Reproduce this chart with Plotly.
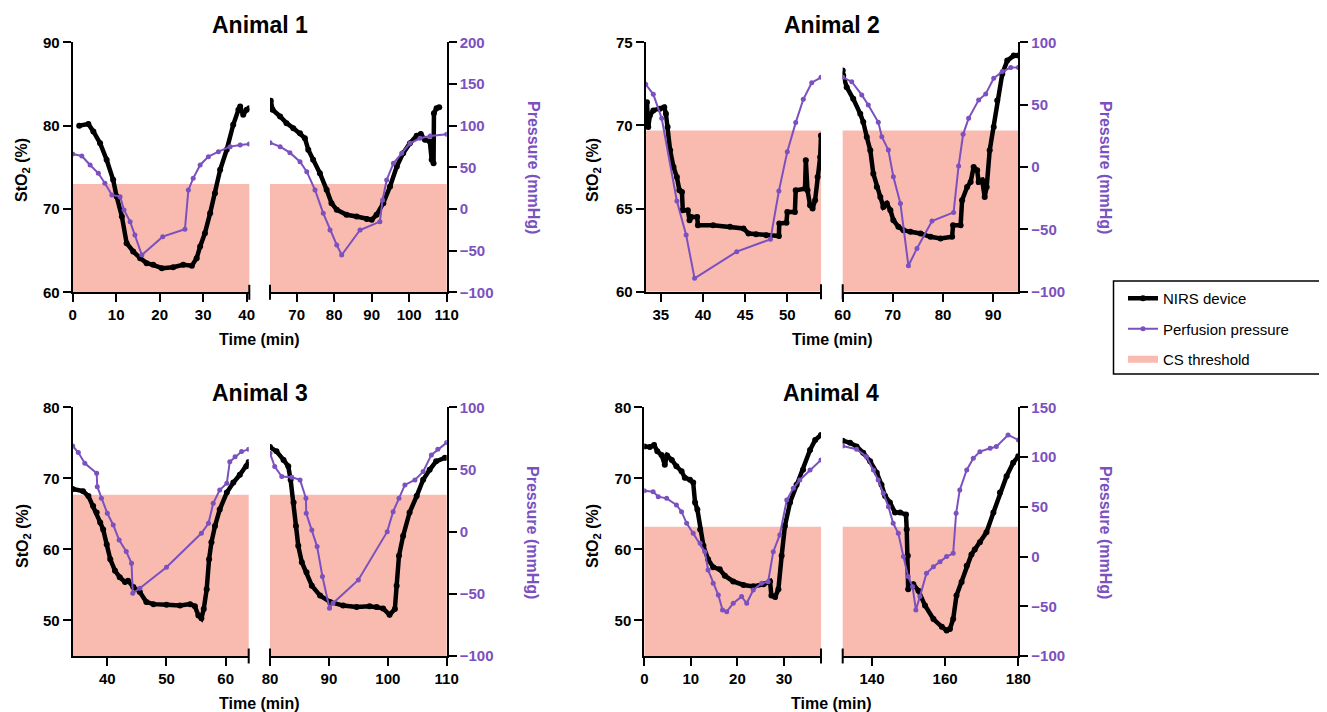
import plotly.graph_objects as go

# ---------------- DATA ----------------
titles = ["Animal 1", "Animal 2", "Animal 3", "Animal 4"]

# Animal 1
a1_s1_nirs_t = [1.5, 3.6, 4.75, 6.3, 7.8, 9.3, 10.1, 11.3, 12.4, 13.9, 15.5, 17.0, 18.5, 20.5, 23.1, 25.4, 27.4, 28.5, 29.3, 30.4, 31.6, 32.7, 33.9, 35.4, 36.9, 38.1, 38.5, 39.2, 40.0, 40.6]
a1_s1_nirs_v = [80.0, 80.2, 79.3, 77.9, 75.9, 73.5, 71.5, 69.1, 65.9, 64.9, 64.1, 63.5, 63.3, 62.9, 63.0, 63.3, 63.2, 64.1, 65.5, 67.1, 69.5, 71.9, 74.7, 77.1, 80.1, 81.9, 82.3, 81.3, 81.9, 82.1]
a1_s2_nirs_t = [63.1, 63.6, 65.6, 67.3, 69.1, 70.9, 72.2, 73.1, 74.4, 76.2, 78.0, 79.3, 80.7, 83.3, 86.0, 88.7, 90.0, 91.3, 93.1, 94.9, 96.7, 98.4, 100.2, 102.0, 103.1, 104.2, 105.5, 106.0, 106.5, 106.6, 107.3, 108.0]
a1_s2_nirs_v = [83.0, 81.9, 81.1, 80.3, 79.7, 79.1, 78.5, 77.1, 75.9, 74.3, 72.3, 70.7, 69.9, 69.3, 69.1, 68.8, 68.7, 69.3, 70.7, 72.7, 75.1, 76.7, 77.9, 78.8, 79.0, 78.3, 78.1, 75.9, 75.5, 81.5, 82.1, 82.2]
a1_s1_pp_t = [0, 2.1, 4.0, 5.9, 7.4, 9.0, 10.9, 11.8, 13.2, 14.3, 15.9, 20.7, 25.8, 26.6, 27.7, 29.3, 31.2, 33.5, 36.2, 38.5, 40.6]
a1_s1_pp_v = [66, 63.6, 52.8, 42.8, 30.8, 16.8, 14.8, -1.2, -15.2, -31.2, -55.2, -33.2, -24.4, 22.8, 36.8, 52.8, 62.8, 68.8, 74.8, 76.8, 78]
a1_s2_pp_t = [62.9, 65.6, 68.2, 70.9, 72.7, 74.9, 77.1, 78.9, 80.7, 82.0, 86.9, 92.2, 92.9, 94.0, 95.8, 98.0, 100.2, 102.9, 105.6, 110]
a1_s2_pp_v = [79.6, 74.8, 67.6, 56.8, 44.8, 22.8, -5.2, -25.2, -43.2, -55.2, -25.2, -15.2, 10.8, 34.8, 54.8, 66.8, 78.8, 84.8, 87.6, 89.6]

# Animal 2
a2_s1_nirs_t = [33.2, 33.35, 33.5, 33.7, 34.1, 34.9, 35.4, 35.6, 35.8, 36.1, 36.5, 36.9, 37.2, 37.5, 37.6, 38.2, 38.4, 38.6, 39.3, 39.4, 41.2, 43.2, 44.8, 45.4, 46.3, 47.5, 49.0, 49.05, 49.9, 50.0, 50.9, 51.0, 52.1, 52.2, 52.4, 52.7, 53.0, 53.3, 53.6, 53.9, 54.0]
a2_s1_nirs_v = [71.2, 71.4, 69.9, 70.6, 70.9, 71.0, 71.1, 70.7, 69.9, 68.5, 67.5, 66.9, 66.1, 66.0, 64.9, 64.9, 64.3, 64.5, 64.5, 64.0, 64.0, 63.9, 63.8, 63.5, 63.45, 63.4, 63.35, 64.1, 64.15, 64.8, 64.8, 66.1, 66.2, 67.9, 66.1, 65.2, 65.0, 65.5, 66.9, 68.1, 69.4]
a2_s2_nirs_t = [60.0, 60.1, 60.8, 62.1, 63.5, 64.1, 64.8, 65.5, 66.1, 66.8, 67.5, 68.1, 68.8, 69.5, 70.1, 71.1, 72.1, 73.5, 75.5, 77.5, 79.5, 81.8, 82.0, 83.5, 83.8, 84.8, 85.5, 86.1, 86.8, 87.1, 87.8, 88.3, 88.7, 89.3, 90.1, 90.8, 91.8, 92.8, 94.1, 95.0]
a2_s2_nirs_v = [73.3, 73.0, 72.3, 71.6, 70.7, 70.2, 69.3, 68.5, 67.1, 66.3, 65.7, 65.1, 65.3, 64.9, 64.3, 63.9, 63.7, 63.6, 63.5, 63.3, 63.2, 63.3, 64.0, 64.0, 65.5, 66.3, 66.6, 67.5, 67.3, 66.6, 66.7, 65.7, 66.3, 68.5, 69.9, 71.5, 73.1, 73.9, 74.2, 74.2]
a2_s1_pp_t = [33.2, 34.1, 35.1, 36.9, 38.0, 39.0, 44.0, 48.0, 49.0, 50.0, 51.0, 51.9, 52.9, 54.0]
a2_s1_pp_v = [66.3, 58.3, 39.0, -27.3, -54.6, -89.3, -67.9, -58.0, -19.3, 12.3, 35.6, 54.3, 67.6, 71.9]
a2_s2_pp_t = [60.0, 61.8, 63.8, 65.1, 67.1, 67.8, 69.1, 70.1, 71.5, 73.1, 74.8, 77.8, 82.1, 83.1, 84.0, 85.1, 87.1, 88.5, 90.1, 91.8, 93.5, 95.0]
a2_s2_pp_v = [71.9, 68.4, 57.8, 49.7, 35.8, 24.3, 13.6, -7.8, -29.2, -79.2, -65.3, -43.3, -36.4, 0.8, 26.2, 39.0, 53.7, 58.6, 71.1, 76.5, 79.7, 79.7]

# Animal 3
a3_s1_nirs_t = [34.15, 35.9, 36.8, 37.6, 38.2, 38.8, 39.3, 39.9, 40.5, 41.3, 42.1, 43.0, 43.5, 44.4, 45.5, 46.6, 47.8, 50.0, 52.3, 54.0, 54.8, 55.4, 55.9, 56.3, 56.8, 57.2, 57.6, 58.2, 59.0, 60.2, 61.3, 62.4, 63.5, 63.9]
a3_s1_nirs_v = [68.5, 68.2, 67.5, 66.1, 65.2, 63.8, 62.8, 60.7, 58.6, 57.0, 56.1, 55.4, 55.6, 54.7, 54.0, 52.6, 52.3, 52.2, 52.1, 52.3, 52.0, 50.7, 50.3, 51.6, 54.4, 58.6, 61.0, 63.3, 65.6, 68.0, 69.4, 70.5, 71.7, 72.3]
a3_s2_nirs_t = [80.0, 81.1, 82.3, 83.1, 83.5, 84.0, 84.4, 84.8, 85.4, 86.2, 87.1, 88.5, 90.2, 92.4, 94.7, 96.9, 98.1, 99.2, 100.3, 101.2, 101.5, 101.9, 102.6, 103.7, 104.9, 106.0, 107.1, 108.2, 109.7]
a3_s2_nirs_v = [74.4, 73.8, 72.6, 71.7, 69.8, 66.6, 63.3, 60.5, 58.2, 56.8, 54.9, 53.5, 52.6, 52.1, 51.9, 52.0, 51.9, 51.7, 50.8, 51.6, 54.9, 59.1, 61.9, 65.2, 67.5, 69.8, 71.2, 72.4, 72.9]
a3_s1_pp_t = [34.15, 35.1, 36.2, 38.2, 38.3, 39.0, 40.0, 41.0, 42.0, 43.2, 44.1, 44.3, 45.5, 50.0, 55.9, 57.1, 57.9, 59.0, 60.2, 60.7, 61.6, 62.7, 63.9]
a3_s1_pp_v = [68.9, 63.6, 55.0, 46.9, 36.2, 26.8, 14.8, 5.4, -6.7, -16.0, -25.4, -49.5, -45.5, -28.6, -1.3, 6.7, 22.8, 33.5, 38.9, 56.3, 60.3, 64.4, 66.2]
a3_s2_pp_t = [80.0, 80.8, 82.0, 83.7, 85.1, 86.1, 86.15, 87.1, 88.0, 88.9, 90.1, 90.7, 95.0, 99.9, 100.9, 101.9, 102.9, 104.6, 106.0, 107.4, 108.5, 110.0]
a3_s2_pp_v = [63.0, 52.3, 44.3, 43.7, 41.6, 26.8, 14.8, 1.4, -12.0, -36.1, -61.6, -57.6, -38.8, 0.0, 16.1, 26.8, 37.6, 41.6, 48.3, 61.7, 66.2, 71.6]

# Animal 4
a4_s1_nirs_t = [0, 1.2, 2.1, 2.8, 3.7, 4.4, 4.9, 5.9, 6.9, 8.0, 8.7, 9.8, 10.5, 10.9, 11.4, 12.0, 12.7, 13.7, 14.8, 16.2, 17.3, 19.1, 21.3, 23.4, 25.6, 27.0, 27.3, 28.1, 28.8, 29.5, 30.2, 31.3, 32.7, 34.1, 35.6, 36.7, 37.95]
a4_s1_nirs_v = [74.5, 74.4, 74.7, 73.8, 73.3, 71.9, 73.2, 72.6, 71.7, 71.0, 70.1, 69.8, 69.4, 66.6, 65.6, 62.8, 60.5, 58.6, 57.5, 57.2, 56.3, 55.5, 55.0, 54.8, 55.1, 55.5, 53.5, 53.3, 54.4, 59.1, 63.3, 66.6, 69.1, 71.2, 74.0, 75.4, 76.1]
a4_s2_nirs_t = [132.0, 134.0, 135.8, 137.6, 139.5, 141.3, 142.6, 143.6, 144.9, 146.3, 147.7, 149.3, 149.5, 149.8, 149.9, 151.3, 152.7, 154.5, 156.8, 159.1, 160.4, 161.3, 162.2, 163.1, 164.5, 165.9, 167.2, 168.1, 169.5, 171.3, 173.2, 175.0, 176.8, 178.6, 180.0]
a4_s2_nirs_v = [75.3, 75.0, 74.5, 73.6, 72.4, 70.8, 69.1, 67.5, 66.6, 65.2, 65.2, 64.9, 62.8, 59.1, 54.4, 55.1, 54.2, 52.1, 50.2, 49.1, 48.6, 48.8, 50.2, 53.5, 55.4, 57.7, 59.3, 60.0, 61.0, 62.4, 65.2, 68.0, 70.3, 72.2, 73.1]
a4_s1_pp_t = [0, 1.9, 3.0, 4.8, 6.9, 8.0, 9.1, 10.5, 12.0, 13.0, 13.7, 14.8, 15.9, 16.8, 17.7, 19.1, 20.9, 22.0, 23.4, 25.2, 26.6, 27.7, 29.1, 30.6, 32.0, 33.4, 35.6, 37.95]
a4_s1_pp_v = [66.2, 65.2, 60.2, 58.5, 51.8, 45.1, 33.4, 23.3, 13.3, 4.9, -13.5, -26.9, -38.7, -53.7, -55.4, -47.0, -40.3, -47.0, -33.6, -26.9, -25.3, 4.9, 21.7, 56.8, 68.6, 76.9, 87.0, 97.1]
a4_s2_pp_t = [132.0, 135.8, 138.5, 140.4, 141.7, 143.1, 144.5, 145.8, 147.2, 148.6, 149.9, 151.1, 152.0, 153.1, 154.9, 156.8, 158.6, 160.4, 162.2, 163.0, 164.0, 165.9, 167.7, 169.5, 172.3, 174.0, 177.2, 180.0]
a4_s2_pp_v = [111.1, 107.8, 100.4, 87.0, 76.9, 63.5, 50.1, 33.4, 23.3, -0.1, -20.2, -30.3, -53.7, -40.3, -16.9, -10.2, -5.2, -0.1, 3.2, 43.4, 66.9, 87.0, 98.7, 105.4, 108.8, 110.5, 122.2, 117.2]

seg1_ranges = [[0, 40.6], [33.2, 54.0], [34.15, 63.9], [0, 37.95]]
seg2_ranges = [[62.9, 110], [60, 95], [80, 110], [132, 180]]
seg1_ticks = [[0, 10, 20, 30, 40], [35, 40, 45, 50], [40, 50, 60], [0, 10, 20, 30]]
seg2_ticks = [[70, 80, 90, 100, 110], [60, 70, 80, 90], [80, 90, 100, 110], [140, 160, 180]]
sto2_ranges = [[60, 90], [60, 75], [45, 80], [45, 80]]
sto2_ticks = [[60, 70, 80, 90], [60, 65, 70, 75], [50, 60, 70, 80], [50, 60, 70, 80]]
pressure_ranges = [[-100, 200], [-100, 100], [-100, 100], [-100, 150]]
cs_threshold = [73.0, 69.7, 67.7, 63.2]

nirs = [
    [(a1_s1_nirs_t, a1_s1_nirs_v), (a1_s2_nirs_t, a1_s2_nirs_v)],
    [(a2_s1_nirs_t, a2_s1_nirs_v), (a2_s2_nirs_t, a2_s2_nirs_v)],
    [(a3_s1_nirs_t, a3_s1_nirs_v), (a3_s2_nirs_t, a3_s2_nirs_v)],
    [(a4_s1_nirs_t, a4_s1_nirs_v), (a4_s2_nirs_t, a4_s2_nirs_v)],
]
pressure = [
    [(a1_s1_pp_t, a1_s1_pp_v), (a1_s2_pp_t, a1_s2_pp_v)],
    [(a2_s1_pp_t, a2_s1_pp_v), (a2_s2_pp_t, a2_s2_pp_v)],
    [(a3_s1_pp_t, a3_s1_pp_v), (a3_s2_pp_t, a3_s2_pp_v)],
    [(a4_s1_pp_t, a4_s1_pp_v), (a4_s2_pp_t, a4_s2_pp_v)],
]

# ---------------- STYLE / LAYOUT ----------------
W, H = 1327, 712
PAGE_OFFSET = 8          # the page body adds an 8px margin around the figure
BLACK = "#000000"
PURPLE = "#7B50BF"
SALMON = "#F9BAB0"
FONT = "Liberation Sans"

# screen-pixel boxes: seg1 x-span, seg2 x-span, y-span (bottom, top)
boxes = [
    dict(s1=(72.7, 249.3), s2=(270.0, 446.7), y=(292.3, 42.3)),
    dict(s1=(645.7, 821.0), s2=(842.7, 1018.3), y=(291.7, 42.3)),
    dict(s1=(72.7, 248.7), s2=(270.0, 446.7), y=(656.0, 407.3)),
    dict(s1=(644.3, 821.0), s2=(842.7, 1018.3), y=(656.0, 407.3)),
]
title_y = [25, 25, 393, 393]
time_y = [339, 339, 703, 703]
sto2_lbl = [(23, 170), (594, 170), (23, 536), (593, 536)]
pres_lbl = [(533, 167), (1105, 167), (533, 532), (1106, 532)]


def px(x):
    return (x - PAGE_OFFSET) / W


def py(y):
    return 1 - (y - PAGE_OFFSET) / H


fig = go.Figure()
layout = {}
shapes = []
annotations = []

axis_common = dict(
    showline=True, linecolor=BLACK, linewidth=2, ticks="outside", ticklen=8,
    tickwidth=2, tickcolor=BLACK, showgrid=False, zeroline=False,
    tickfont=dict(family=FONT, size=15, color=BLACK, weight="bold"),
)

for p in range(4):
    b = boxes[p]
    ydom = [py(b["y"][0]), py(b["y"][1])]
    for s in range(2):
        n = p * 2 + s + 1          # x axis & StO2 axis index
        m = 8 + p * 2 + s + 1      # pressure axis index
        xk = "xaxis" if n == 1 else f"xaxis{n}"
        yk = "yaxis" if n == 1 else f"yaxis{n}"
        xr = "x" if n == 1 else f"x{n}"
        yr = "y" if n == 1 else f"y{n}"
        span = b["s1"] if s == 0 else b["s2"]
        layout[xk] = dict(
            axis_common, domain=[px(span[0]), px(span[1])], anchor=yr,
            range=seg1_ranges[p] if s == 0 else seg2_ranges[p],
            tickvals=seg1_ticks[p] if s == 0 else seg2_ticks[p],
        )
        if s == 0:
            layout[yk] = dict(
                axis_common, domain=ydom, anchor=xr, side="left",
                range=sto2_ranges[p], tickvals=sto2_ticks[p],
            )
            layout[f"yaxis{m}"] = dict(
                domain=ydom, anchor=xr, overlaying=yr, visible=False,
                range=pressure_ranges[p],
            )
        else:
            layout[yk] = dict(domain=ydom, anchor=xr, visible=False,
                              range=sto2_ranges[p])
            pt = dict(axis_common)
            pt["tickfont"] = dict(family=FONT, size=15, color=PURPLE, weight="bold")
            layout[f"yaxis{m}"] = dict(
                pt, domain=ydom, anchor=xr, overlaying=yr, side="right",
                range=pressure_ranges[p],
                tickvals=list(range(pressure_ranges[p][0], pressure_ranges[p][1] + 1, 50)),
            )
        # CS threshold region
        shapes.append(dict(
            type="rect", xref=f"{xr} domain", x0=0, x1=1, yref=yr,
            y0=sto2_ranges[p][0], y1=cs_threshold[p],
            fillcolor=SALMON, line=dict(width=0), layer="below",
        ))
        # axis break marker
        shapes.append(dict(
            type="line", xref=f"{xr} domain", x0=1 - s, x1=1 - s,
            yref=f"{yr} domain", y0=-0.03, y1=0.03,
            line=dict(color=BLACK, width=2),
        ))
        # traces
        t, v = nirs[p][s]
        fig.add_trace(go.Scatter(
            x=t, y=v, xaxis=xr, yaxis=yr, mode="lines+markers",
            name="NIRS device", legendgroup="nirs",
            showlegend=(p == 0 and s == 0),
            line=dict(color=BLACK, width=4.5), marker=dict(color=BLACK, size=6),
        ))
        t, v = pressure[p][s]
        fig.add_trace(go.Scatter(
            x=t, y=v, xaxis=xr, yaxis=f"y{m}", mode="lines+markers",
            name="Perfusion pressure", legendgroup="pp",
            showlegend=(p == 0 and s == 0),
            line=dict(color=PURPLE, width=2), marker=dict(color=PURPLE, size=5),
        ))

    cx = (b["s1"][0] + b["s2"][1]) / 2
    annotations.append(dict(
        x=px(cx), y=py(title_y[p]), xref="paper", yref="paper", showarrow=False,
        text=titles[p], xanchor="center", yanchor="middle",
        font=dict(family=FONT, size=23, color=BLACK, weight="bold"),
    ))
    annotations.append(dict(
        x=px(cx), y=py(time_y[p]), xref="paper", yref="paper", showarrow=False,
        text="Time (min)", xanchor="center", yanchor="middle",
        font=dict(family=FONT, size=16, color=BLACK, weight="bold"),
    ))
    annotations.append(dict(
        x=px(sto2_lbl[p][0]), y=py(sto2_lbl[p][1]), xref="paper", yref="paper",
        showarrow=False, text="StO<sub>2</sub> (%)", textangle=-90,
        xanchor="center", yanchor="middle",
        font=dict(family=FONT, size=16, color=BLACK, weight="bold"),
    ))
    annotations.append(dict(
        x=px(pres_lbl[p][0]), y=py(pres_lbl[p][1]), xref="paper", yref="paper",
        showarrow=False, text="Pressure (mmHg)", textangle=90,
        xanchor="center", yanchor="middle",
        font=dict(family=FONT, size=16, color=PURPLE, weight="bold"),
    ))

# legend frame (extends past the right edge, as in the reference)
shapes.append(dict(
    type="rect", xref="paper", yref="paper",
    x0=px(1113.5), x1=px(1345), y0=py(374), y1=py(281),
    line=dict(color=BLACK, width=1.5), fillcolor="rgba(0,0,0,0)",
))

# legend-only entry for the threshold
fig.add_trace(go.Scatter(
    x=[None], y=[None], mode="lines", name="CS threshold", legendgroup="cs",
    line=dict(color=SALMON, width=7),
))

fig.update_layout(
    **layout,
    shapes=shapes,
    annotations=annotations,
    width=W, height=H,
    margin=dict(l=0, r=0, t=0, b=0, autoexpand=False),
    paper_bgcolor="white", plot_bgcolor="white",
    font=dict(family=FONT, color=BLACK),
    showlegend=True,
    legend=dict(
        x=px(1123), y=py(282), xanchor="left", yanchor="top",
        borderwidth=0, bgcolor="rgba(0,0,0,0)",
        font=dict(family=FONT, size=15, color=BLACK),
        tracegroupgap=8, itemwidth=30,
    ),
)

fig.write_html("out.html")
